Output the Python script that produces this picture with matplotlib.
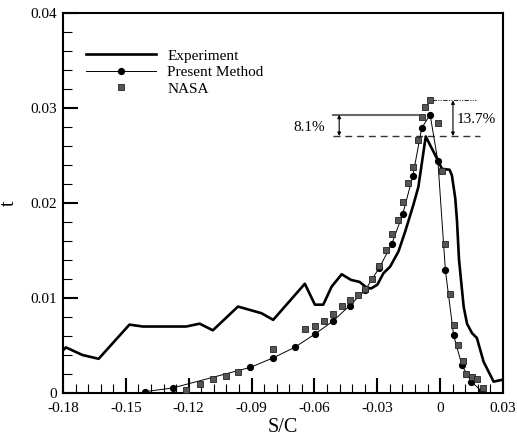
import matplotlib
matplotlib.use("Agg")
import matplotlib.pyplot as plt
from matplotlib.ticker import MultipleLocator, FixedLocator

plt.rcParams['font.family'] = ['Liberation Serif', 'DejaVu Serif']
plt.rcParams['mathtext.fontset'] = 'stix'

# ---------------- data ----------------
exp_s = [-0.18, -0.1786, -0.1707, -0.163, -0.1483, -0.142, -0.1212, -0.1148, -0.1085,
         -0.0965, -0.0853, -0.0797, -0.0646, -0.0598, -0.0558, -0.0518, -0.047, -0.0425,
         -0.0385, -0.0351, -0.0330, -0.0300, -0.0271, -0.0239, -0.0199, -0.0167, -0.0128,
         -0.0104, -0.0069, -0.0011, 0.0008, 0.0045, 0.0056, 0.0072, 0.0080, 0.0090,
         0.0112, 0.0128, 0.0152, 0.0175, 0.0207, 0.0255, 0.0298]
exp_t = [0.0045, 0.0048, 0.0040, 0.0036, 0.0072, 0.0070, 0.0070, 0.0073, 0.0066,
         0.0091, 0.0084, 0.0077, 0.0115, 0.0093, 0.0093, 0.0112, 0.0125, 0.0119,
         0.0117, 0.0111, 0.0110, 0.0114, 0.0126, 0.0133, 0.0149, 0.0170, 0.0198,
         0.0217, 0.0270, 0.0245, 0.0236, 0.0235, 0.0229, 0.0205, 0.0182, 0.0140,
         0.0091, 0.0073, 0.0063, 0.0058, 0.0033, 0.0012, 0.0014]

pm_s = [-0.1411, -0.1277, -0.0906, -0.0797, -0.0695, -0.0598, -0.0510, -0.0432,
        -0.0359, -0.0290, -0.0231, -0.0179, -0.0131, -0.0088, -0.0048, -0.0011,
        0.0025, 0.0064, 0.0104, 0.0148, 0.0198]
pm_t = [0.00014, 0.00053, 0.0027, 0.0037, 0.0048, 0.0062, 0.0076, 0.0092,
        0.0108, 0.0132, 0.0157, 0.0188, 0.0228, 0.0279, 0.0293, 0.0244,
        0.0129, 0.0061, 0.0029, 0.0012, 0.0002]

nasa_s = [-0.1212, -0.1148, -0.1085, -0.1024, -0.0965, -0.0797, -0.0646, -0.0598,
          -0.0553, -0.0510, -0.0470, -0.0429, -0.0392, -0.0359, -0.0324, -0.0290,
          -0.0258, -0.0231, -0.0202, -0.0179, -0.0152, -0.0131, -0.0108, -0.0088,
          -0.0072, -0.0048, -0.0011, 0.0008, 0.0024, 0.0045, 0.0064, 0.0086,
          0.0107, 0.0124, 0.0152, 0.0176, 0.0203]
nasa_t = [0.0003, 0.00095, 0.0015, 0.0018, 0.0022, 0.0046, 0.0067, 0.0071,
          0.0076, 0.0083, 0.0092, 0.0098, 0.0103, 0.0109, 0.0120, 0.0134,
          0.0151, 0.0167, 0.0182, 0.0201, 0.0221, 0.0238, 0.0266, 0.0291,
          0.0301, 0.0308, 0.0284, 0.0234, 0.0157, 0.0104, 0.0072, 0.0051,
          0.0034, 0.0020, 0.0017, 0.0015, 0.0005]

x_ticks = [-0.18, -0.15, -0.12, -0.09, -0.06, -0.03, 0, 0.03]
x_tick_labels = ['-0.18', '-0.15', '-0.12', '-0.09', '-0.06', '-0.03', '0', '0.03']
y_ticks = [0, 0.01, 0.02, 0.03, 0.04]
y_tick_labels = ['0', '0.01', '0.02', '0.03', '0.04']

# peak levels used in the annotation
peak_exp = 0.02705
peak_pm = 0.0293
peak_nasa = 0.0308
pct_pm = '8.1%'
pct_nasa = '13.7%'

# ---------------- figure ----------------
fig = plt.figure(figsize=(5.17, 4.38), dpi=100)
ax = fig.add_axes([0.1219, 0.1027, 0.8511, 0.8676])

ax.plot(exp_s, exp_t, color='black', lw=1.9, label='Experiment', zorder=3)
ax.plot(pm_s, pm_t, color='black', lw=0.7, marker='o', ms=4.2,
        mfc='black', mec='black', label='Present Method', zorder=4)
ax.plot(nasa_s, nasa_t, ls='none', marker='s', ms=4.8, mfc='#555555',
        mec='#222222', mew=0.6, label='NASA', zorder=5)

# annotation lines
ax.plot([-0.0513, -0.0105], [peak_pm, peak_pm], color='#6a6a6a', lw=1.5, zorder=2)
ax.plot([-0.0513, 0.0191], [peak_exp, peak_exp], color='#333333', lw=1.0,
        dashes=(5, 3.5), zorder=2)
ax.plot([-0.004, 0.0172], [peak_nasa, peak_nasa], color='#333333', lw=0.8,
        dashes=(4, 1.2, 1, 1.2, 1, 1.2), zorder=2)
ax.annotate('', xy=(-0.0482, peak_exp), xytext=(-0.0482, peak_pm),
            arrowprops=dict(arrowstyle='<|-|>', color='black', lw=0.8,
                            mutation_scale=5, shrinkA=0, shrinkB=0))
ax.annotate('', xy=(0.0061, peak_exp), xytext=(0.0061, peak_nasa),
            arrowprops=dict(arrowstyle='<|-|>', color='black', lw=0.8,
                            mutation_scale=5, shrinkA=0, shrinkB=0))
ax.text(-0.0548, 0.0280, pct_pm, fontsize=11, ha='right', va='center')
ax.text(0.0079, 0.0288, pct_nasa, fontsize=11, ha='left', va='center')

ax.set_xlim(-0.18, 0.03)
ax.set_ylim(0, 0.04)
ax.xaxis.set_major_locator(FixedLocator(x_ticks))
ax.set_xticklabels(x_tick_labels)
ax.yaxis.set_major_locator(FixedLocator(y_ticks))
ax.set_yticklabels(y_tick_labels)
ax.xaxis.set_minor_locator(MultipleLocator(0.006))
ax.yaxis.set_minor_locator(MultipleLocator(0.002))
ax.tick_params(which='major', direction='in', length=11, width=1.5,
               labelsize=11, top=False, right=False)
ax.tick_params(which='minor', direction='in', length=6.5, width=0.8,
               top=False, right=False)
ax.tick_params(axis='x', which='major', pad=6.5)
ax.tick_params(axis='y', which='major', pad=4)
for sp in ax.spines.values():
    sp.set_linewidth(1.5)

ax.set_xlabel('S/C', fontsize=14.5, labelpad=2)
ax.set_ylabel('t', fontsize=14.5, labelpad=9)

leg = ax.legend(loc='upper left', bbox_to_anchor=(0.053, 0.905), frameon=False,
                fontsize=11, handlelength=4.55, handletextpad=0.75,
                labelspacing=0.18, numpoints=1, borderpad=0, borderaxespad=0)

fig.savefig('out.png', dpi=100)
